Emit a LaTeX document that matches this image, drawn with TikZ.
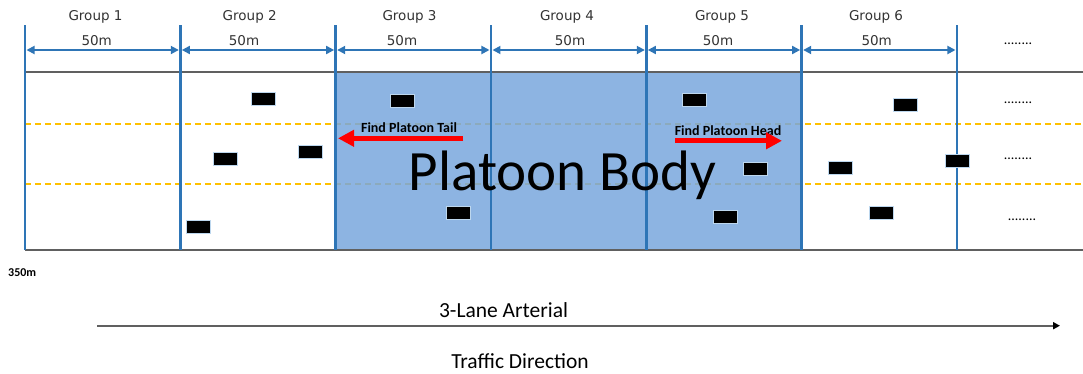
\documentclass[tikz,border=0pt]{standalone}
\usepackage{fontspec}
\setmainfont{Carlito}
\newfontfamily\grpfont{DejaVu Sans}
\usepackage{tikz}
\usetikzlibrary{arrows.meta,calc}
\definecolor{laneblue}{RGB}{46,117,182}
\definecolor{bodyblue}{RGB}{121,167,221}
\definecolor{roadgray}{RGB}{96,96,96}
\definecolor{laneyellow}{RGB}{255,192,0}
\definecolor{carrim}{RGB}{189,215,238}

\begin{document}
\begin{tikzpicture}[x=1pt,y=-1pt,
  groupline/.style={draw=laneblue,line width=2.5pt},
  dimarrow/.style={draw=laneblue,line width=1.8pt,{Triangle[length=8pt,width=8pt]}-{Triangle[length=8pt,width=8pt]},shorten <=1.5pt,shorten >=1.5pt},
  car/.style={rectangle,fill=black,draw=carrim,line width=1pt,minimum width=24pt,minimum height=13pt,inner sep=0pt},
  findarrow/.style={draw=red,line width=5pt,-{Triangle[length=16pt,width=16pt]}},
  lanemark/.style={draw=laneyellow,line width=1.5pt,dash pattern=on 6pt off 4pt},
  grplabel/.style={font=\grpfont\fontsize{13.5}{16}\selectfont,text=black!80,anchor=base,inner sep=0pt},
  findlabel/.style={font=\bfseries\fontsize{14}{16}\selectfont,anchor=base,inner sep=0pt},
  dotlabel/.style={font=\fontsize{14}{16}\selectfont,anchor=base,inner sep=0pt}]
\useasboundingbox (0,0) rectangle (1083,373);

\draw[lanemark] (25,124) -- (1083,124);
\draw[lanemark] (25,184) -- (1083,184);
\fill[bodyblue,fill opacity=.85] (335,72) rectangle (801,250);
\draw[roadgray,line width=1.6pt] (25,72) -- (1083,72);
\draw[roadgray,line width=1.6pt] (25,250) -- (1083,250);

\foreach \i in {0,...,6}{
  \draw[groupline] ({25+155.33*\i},25) coordinate (top\i) -- ({25+155.33*\i},250) coordinate (bot\i);
  \coordinate (dim\i) at ({25+155.33*\i},50);
}
\foreach \i in {0,...,5}{
  \pgfmathtruncatemacro\j{\i+1}
  \draw[dimarrow] (dim\i) -- (dim\j);
}
\foreach \n/\gx/\mx in {1/95.5/96.7,2/249.7/244,3/409.5/402,4/567/570,5/722/718,6/876/876.7}{
  \node[grplabel] (group\n) at (\gx,20.7) {Group \n};
  \node[grplabel] (len\n) at (\mx,45) {50m};
}

\node[car] (car1) at (263,98.5) {};
\node[car] (car2) at (225,158.7) {};
\node[car] (car3) at (310,152) {};
\node[car] (car4) at (198,226.7) {};
\node[car] (car5) at (402.7,101) {};
\node[car] (car6) at (458,213) {};
\node[car] (car7) at (694,100) {};
\node[car] (car8) at (755,169) {};
\node[car] (car9) at (725,217) {};
\node[car] (car10) at (905,105) {};
\node[car] (car11) at (840,168) {};
\node[car] (car12) at (957,161) {};
\node[car] (car13) at (881,213) {};

\node[anchor=base,inner sep=0pt,font=\fontsize{57}{60}\selectfont] (body) at (562.5,190) {Platoon Body};

\node[findlabel] (taillabel) at (409,132.3) {Find Platoon Tail};
\coordinate (tailstart) at (463,138.3);
\coordinate (tailend) at (338,138.3);
\draw[findarrow] (tailstart) -- (tailend);
\node[findlabel] (headlabel) at (728,135) {Find Platoon Head};
\coordinate (headstart) at (675,140.8);
\coordinate (headend) at (782,140.8);
\draw[findarrow] (headstart) -- (headend);

\node[dotlabel] (dots1) at (1018,44) {........};
\node[dotlabel] (dots2) at (1018,103.5) {........};
\node[dotlabel] (dots3) at (1018,159.5) {........};
\node[dotlabel] (dots4) at (1022,220.5) {........};

\node[anchor=base west,inner sep=0pt,font=\bfseries\fontsize{12}{14}\selectfont] (total) at (8,276.7) {350m};

\node[anchor=base,inner sep=0pt,font=\fontsize{21.5}{24}\selectfont] (arterial) at (503.5,317.7) {3-Lane Arterial};
\coordinate (flowstart) at (97,325.7);
\coordinate (flowend) at (1060,325.7);
\draw[roadgray,line width=1.8pt,-{Triangle[length=7pt,width=7pt,color=black]}] (flowstart) -- (flowend);
\node[anchor=base,inner sep=0pt,font=\fontsize{21.5}{24}\selectfont] (direction) at (520,368.5) {Traffic Direction};
\end{tikzpicture}
\end{document}
